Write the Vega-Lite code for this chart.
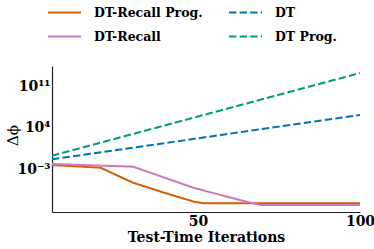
{
  "$schema": "https://vega.github.io/schema/vega-lite/v6.json",
  "autosize": "none",
  "width": 308,
  "height": 146,
  "padding": {"left": 52, "top": 66, "right": 14, "bottom": 37},
  "background": "white",
  "config": {
    "view": {"stroke": null}
  },
  "data": {
    "values": [
      {"series": "DT-Recall Prog.", "iter": 5, "delta": 4.8e-3},
      {"series": "DT-Recall Prog.", "iter": 20, "delta": 1.66e-3},
      {"series": "DT-Recall Prog.", "iter": 30, "delta": 4.6e-6},
      {"series": "DT-Recall Prog.", "iter": 39.6, "delta": 9.1e-8},
      {"series": "DT-Recall Prog.", "iter": 48.8, "delta": 2.6e-9},
      {"series": "DT-Recall Prog.", "iter": 52, "delta": 1.4e-9},
      {"series": "DT-Recall Prog.", "iter": 100, "delta": 1.4e-9},
      {"series": "DT-Recall", "iter": 5, "delta": 7.1e-3},
      {"series": "DT-Recall", "iter": 30, "delta": 2.5e-3},
      {"series": "DT-Recall", "iter": 48.8, "delta": 5.8e-7},
      {"series": "DT-Recall", "iter": 65, "delta": 2.6e-9},
      {"series": "DT-Recall", "iter": 69.4, "delta": 7.2e-10},
      {"series": "DT-Recall", "iter": 100, "delta": 7.2e-10},
      {"series": "DT", "iter": 5, "delta": 0.0457},
      {"series": "DT", "iter": 100, "delta": 1.66e6},
      {"series": "DT Prog.", "iter": 5, "delta": 0.186},
      {"series": "DT Prog.", "iter": 100, "delta": 2.4e13}
    ]
  },
  "mark": {"type": "line", "strokeWidth": 2, "clip": true},
  "encoding": {
    "x": {
      "field": "iter", "type": "quantitative",
      "scale": {"domain": [5, 100], "nice": false, "zero": false},
      "axis": {
        "values": [50, 100], "title": "Test-Time Iterations",
        "grid": false, "ticks": false, "domainColor": "#222", "domainWidth": 1.2,
        "labelFont": "DejaVu Serif", "labelFontWeight": "bold", "labelFontSize": 14, "labelColor": "#000",
        "labelPadding": 2, "labelFlush": false,
        "titleFont": "DejaVu Serif", "titleFontWeight": "bold", "titleFontSize": 14, "titleColor": "#000",
        "titlePadding": 2
      }
    },
    "y": {
      "field": "delta", "type": "quantitative",
      "scale": {"type": "log", "domain": [4.6e-11, 3.8e14], "nice": false},
      "axis": {
        "values": [0.001, 10000, 100000000000],
        "labelExpr": "round(log(datum.value)/LN10) == 11 ? '10¹¹' : round(log(datum.value)/LN10) == 4 ? '10⁴' : '10⁻³'",
        "title": "Δϕ",
        "grid": false, "ticks": false, "domainColor": "#222", "domainWidth": 1.2,
        "labelFont": "DejaVu Serif", "labelFontWeight": "bold", "labelFontSize": 14, "labelColor": "#000",
        "labelPadding": 2,
        "titleFont": "DejaVu Serif", "titleFontWeight": "normal", "titleFontSize": 15, "titleColor": "#000",
        "titleX": -40, "titleY": 69, "titleAngle": -90, "titleAlign": "center", "titleBaseline": "middle"
      }
    },
    "color": {
      "field": "series", "type": "nominal",
      "scale": {
        "domain": ["DT-Recall Prog.", "DT-Recall", "DT", "DT Prog."],
        "range": ["#d55e00", "#cc78bc", "#0173b2", "#029e73"]
      },
      "legend": {
        "title": null, "orient": "none", "legendX": -5, "legendY": -71,
        "columns": 2, "columnPadding": 22, "rowPadding": -10,
        "symbolType": "stroke", "symbolSize": 1089, "symbolStrokeWidth": 2,
        "labelFont": "DejaVu Serif", "labelFontWeight": "bold", "labelFontSize": 12.5, "labelColor": "#000",
        "labelOffset": 12
      }
    },
    "strokeDash": {
      "field": "series", "type": "nominal",
      "scale": {
        "domain": ["DT-Recall Prog.", "DT-Recall", "DT", "DT Prog."],
        "range": [[1, 0], [1, 0], [7.4, 3.2], [7.4, 3.2]]
      },
      "legend": {
        "title": null, "orient": "none", "legendX": -5, "legendY": -71,
        "columns": 2, "columnPadding": 22, "rowPadding": -10,
        "symbolType": "stroke", "symbolSize": 1089, "symbolStrokeWidth": 2,
        "labelFont": "DejaVu Serif", "labelFontWeight": "bold", "labelFontSize": 12.5, "labelColor": "#000",
        "labelOffset": 12
      }
    }
  }
}
